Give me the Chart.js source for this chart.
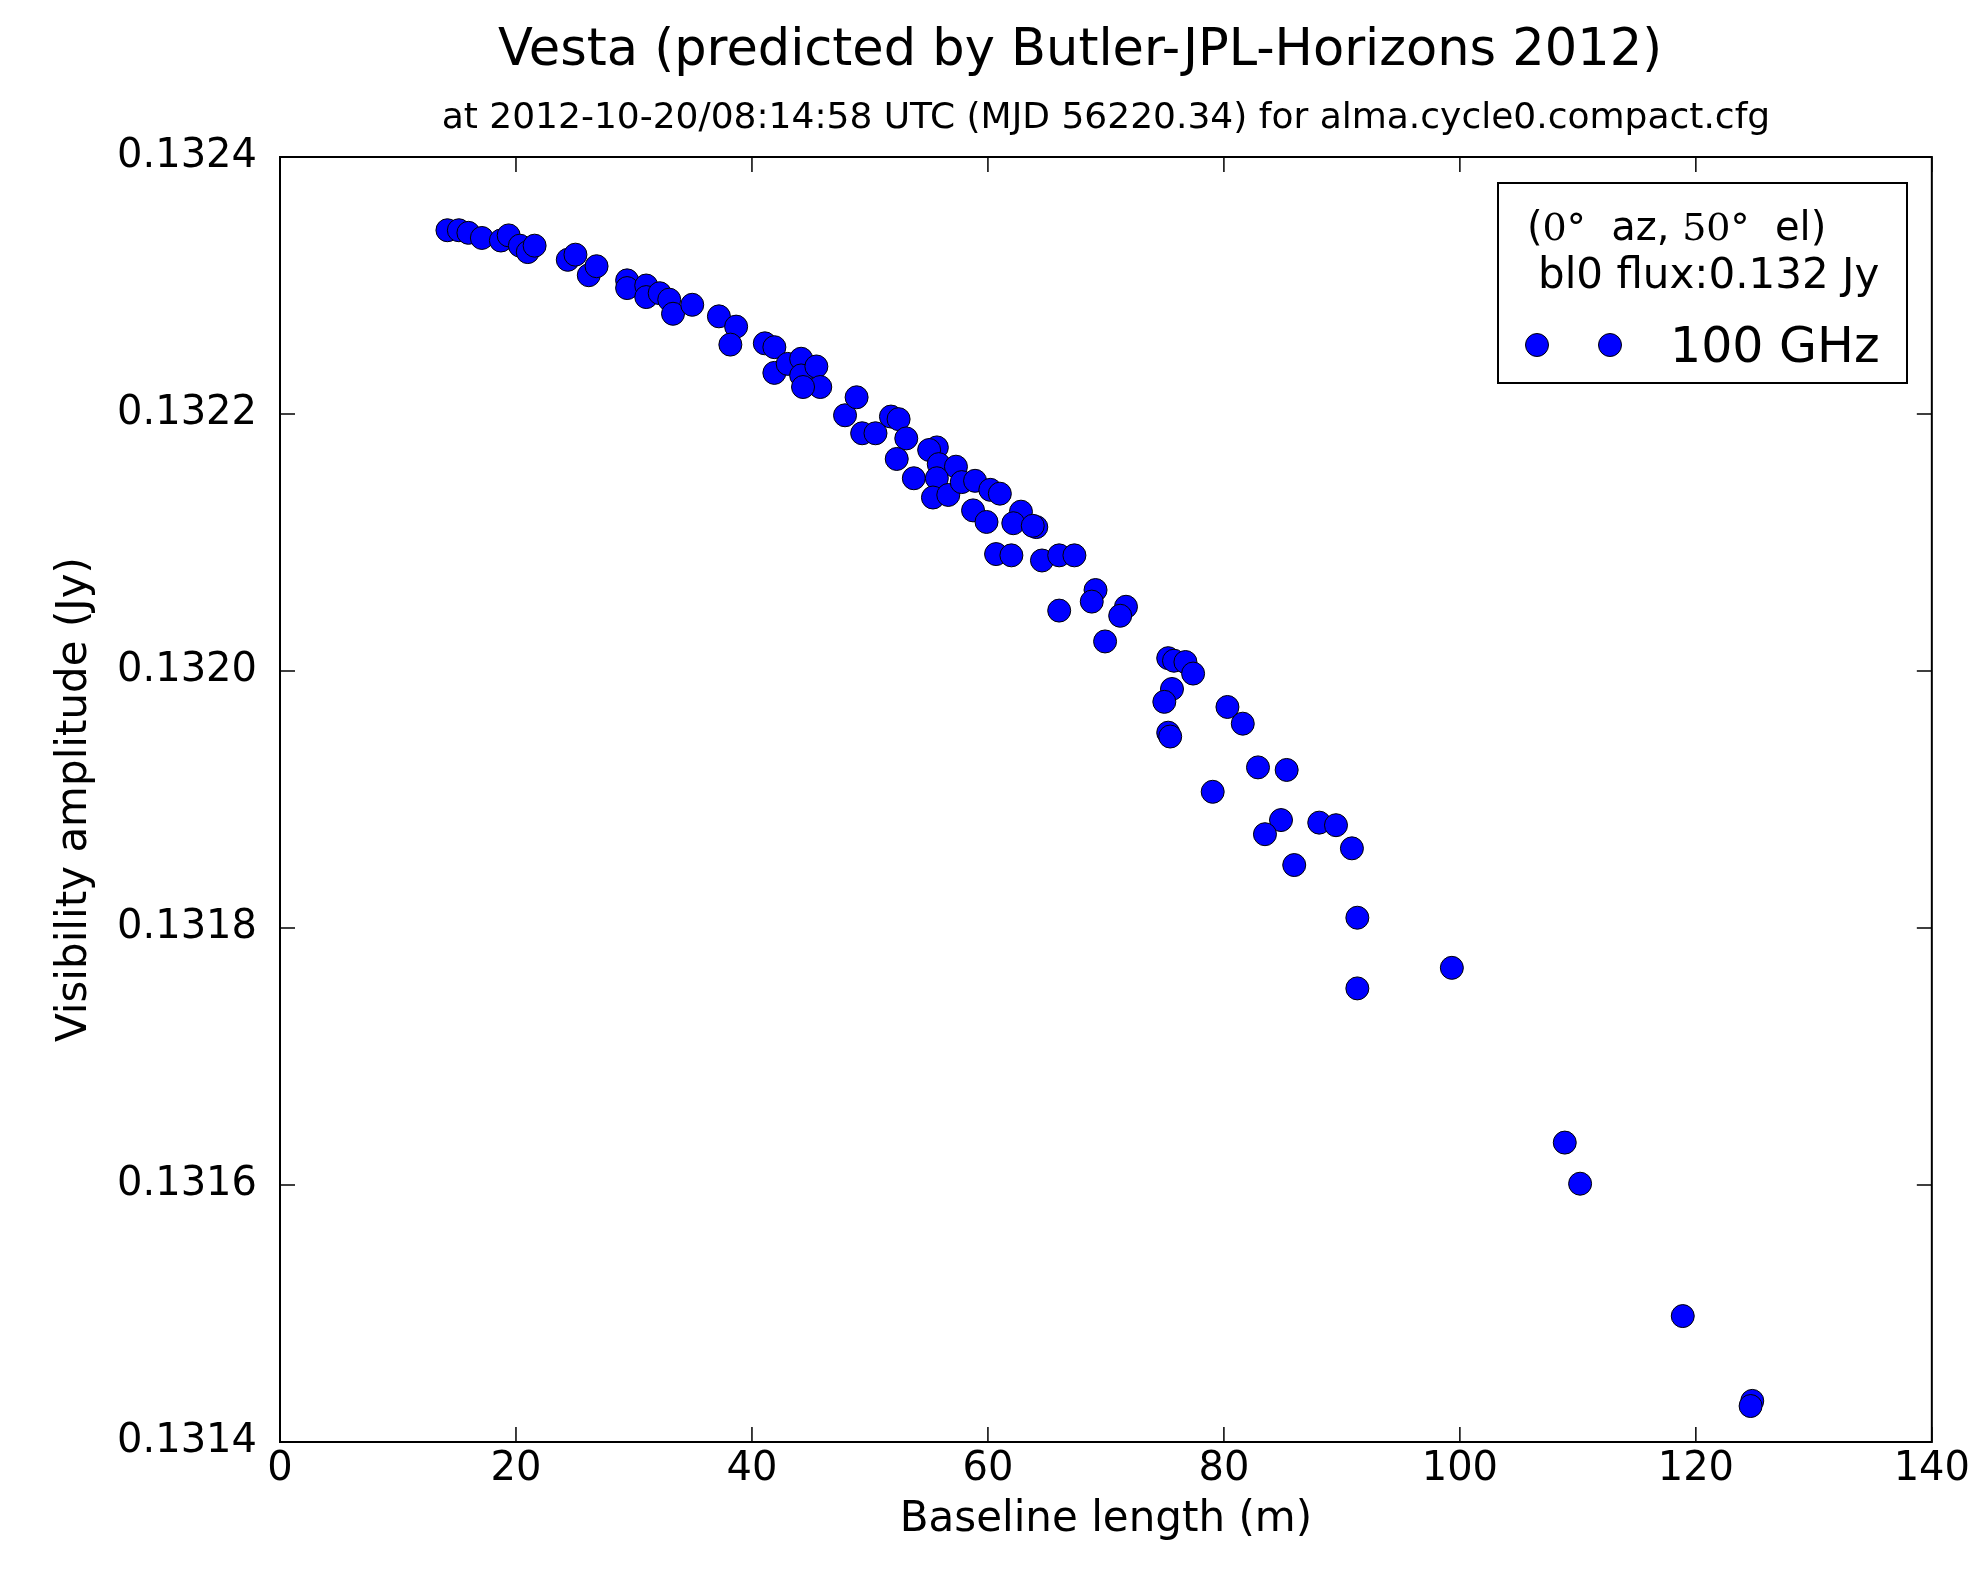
<!DOCTYPE html>
<html>
<head>
<meta charset="utf-8">
<script src="https://cdn.jsdelivr.net/npm/chart.js@4/dist/chart.umd.min.js"></script>
<style>
html,body{margin:0;padding:0;background:#ffffff;}
#wrap{width:1974px;height:1569px;}
canvas{display:block;}
</style>
</head>
<body>
<div id="wrap"><canvas id="c" width="1974" height="1569"></canvas></div>
<script>
// ---- data ----
const baselineLength = [
  14.19, 15.16, 15.97, 17.11, 18.72, 19.38, 20.33, 21.00, 21.58,
  24.39, 25.04, 26.17, 26.83, 29.42, 29.42, 31.04, 31.04, 32.18, 32.99, 33.31, 34.94,
  37.20, 38.66, 38.17, 41.09, 41.90, 41.90, 43.03, 44.17, 44.17, 45.46, 45.79, 44.33,
  47.89, 48.87,
  49.34, 50.47, 51.78, 52.43, 53.08, 52.27, 55.67, 55.02, 55.83, 57.29, 53.72, 55.67,
  55.34, 56.64, 57.78, 58.91, 60.20, 61.01, 58.74, 59.88, 62.80, 62.15, 64.10, 63.80,
  60.69, 61.99, 64.58, 66.04, 67.33, 69.12, 68.80, 66.04, 71.70, 71.21, 69.93,
  75.28, 75.77, 76.74, 77.39, 75.60, 74.95, 75.28, 75.45, 80.30, 81.60, 82.89, 85.32,
  79.05, 84.84, 83.48, 88.08, 89.50, 90.85, 85.96, 91.31, 91.31, 99.32,
  108.89, 110.19, 118.89, 124.78, 124.64
];
const visibilityAmplitude = [
  0.132343, 0.132343, 0.132341, 0.132337, 0.132335, 0.132339, 0.132331, 0.132326, 0.132331,
  0.132320, 0.132324, 0.132308, 0.132315, 0.132304, 0.132298, 0.132300, 0.132291, 0.132294, 0.132289, 0.132278, 0.132285,
  0.132276, 0.132268, 0.132254, 0.132255, 0.132252, 0.132232, 0.132239, 0.132243, 0.132230, 0.132237, 0.132221, 0.132221,
  0.132199, 0.132213,
  0.132185, 0.132185, 0.132198, 0.132196, 0.132181, 0.132165, 0.132174, 0.132172, 0.132161, 0.132159, 0.132150, 0.132150,
  0.132135, 0.132137, 0.132147, 0.132148, 0.132141, 0.132138, 0.132125, 0.132116, 0.132124, 0.132115, 0.132112, 0.132113,
  0.132091, 0.132090, 0.132086, 0.132090, 0.132090, 0.132063, 0.132054, 0.132047, 0.132050, 0.132043, 0.132023,
  0.132010, 0.132008, 0.132007, 0.131998, 0.131986, 0.131976, 0.131952, 0.131949, 0.131972, 0.131959, 0.131925, 0.131923,
  0.131906, 0.131884, 0.131873, 0.131882, 0.131880, 0.131862, 0.131849, 0.131808, 0.131753, 0.131769,
  0.131633, 0.131601, 0.131498, 0.131432, 0.131428
];
const xTickValues = [0, 20, 40, 60, 80, 100, 120, 140];
const yTickValues = [0.1314, 0.1316, 0.1318, 0.1320, 0.1322, 0.1324];
const yTickLabels = ['0.1314', '0.1316', '0.1318', '0.1320', '0.1322', '0.1324'];
const seriesName = '100 GHz';
const chartTitle = 'Vesta (predicted by Butler-JPL-Horizons 2012)';
const chartSubtitle = 'at 2012-10-20/08:14:58 UTC (MJD 56220.34) for alma.cycle0.compact.cfg';
const xAxisTitle = 'Baseline length (m)';
const yAxisTitle = 'Visibility amplitude (Jy)';
const legendLine1 = [['(', 'sans'], ['0°', 'serif'], ['  az, ', 'sans'], ['50°', 'serif'], ['  el)', 'sans']];
const legendLine2 = 'bl0 flux:0.132 Jy';

const points = baselineLength.map((x, i) => ({x: x, y: visibilityAmplitude[i]}));
const SANS = "'DejaVu Sans', 'Liberation Sans', sans-serif";
const SERIF = "'DejaVu Serif', 'Liberation Serif', serif";

Chart.defaults.font.family = SANS;
Chart.defaults.color = '#000000';

const framePlugin = {
  id: 'mplFrame',
  afterDraw(chart) {
    const ctx = chart.ctx;
    const a = chart.chartArea;
    const xs = chart.scales.x, ys = chart.scales.y;
    ctx.save();

    // titles
    ctx.fillStyle = '#000000';
    ctx.textAlign = 'center';
    ctx.textBaseline = 'middle';
    ctx.font = '51px ' + SANS;
    ctx.fillText(chartTitle, 1080, 52);
    ctx.font = '36px ' + SANS;
    ctx.fillText(chartSubtitle, (a.left + a.right) / 2, 119);

    // inward ticks on all four sides
    ctx.strokeStyle = '#000000';
    ctx.lineWidth = 1.5;
    const tl = 15;
    ctx.beginPath();
    xTickValues.forEach(v => {
      const p = xs.getPixelForValue(v);
      ctx.moveTo(p, a.bottom); ctx.lineTo(p, a.bottom - tl);
      ctx.moveTo(p, a.top); ctx.lineTo(p, a.top + tl);
    });
    yTickValues.forEach(v => {
      const p = ys.getPixelForValue(v);
      ctx.moveTo(a.left, p); ctx.lineTo(a.left + tl, p);
      ctx.moveTo(a.right, p); ctx.lineTo(a.right - tl, p);
    });
    ctx.stroke();
    // frame
    ctx.lineWidth = 2;
    ctx.strokeRect(a.left, a.top, a.right - a.left, a.bottom - a.top);

    // legend box
    const bx = 1498, by = 183, bw = 409, bh = 200;
    ctx.fillStyle = '#ffffff';
    ctx.fillRect(bx, by, bw, bh);
    ctx.lineWidth = 2;
    ctx.strokeRect(bx, by, bw, bh);

    ctx.fillStyle = '#000000';
    ctx.textBaseline = 'alphabetic';
    ctx.textAlign = 'left';
    let x = 1527;
    legendLine1.forEach(([t, f]) => {
      ctx.font = (f === 'serif' ? '38px ' + SERIF : '40px ' + SANS);
      ctx.fillText(t, x, 240);
      x += ctx.measureText(t).width;
    });
    ctx.font = '42px ' + SANS;
    ctx.fillText(legendLine2, 1538, 288);

    const ds = chart.data.datasets[0];
    [1537, 1610].forEach(mx => {
      ctx.beginPath();
      ctx.arc(mx, 345, ds.pointRadius, 0, Math.PI * 2);
      ctx.fillStyle = ds.backgroundColor;
      ctx.fill();
      ctx.lineWidth = ds.borderWidth;
      ctx.strokeStyle = ds.borderColor;
      ctx.stroke();
    });
    ctx.fillStyle = '#000000';
    ctx.font = '49px ' + SANS;
    ctx.fillText(ds.label, 1670, 362);
    ctx.restore();
  }
};

new Chart(document.getElementById('c'), {
  type: 'scatter',
  data: {
    datasets: [{
      label: seriesName,
      data: points,
      backgroundColor: '#0000ff',
      borderColor: '#000000',
      borderWidth: 1,
      pointRadius: 11.5,
      pointHoverRadius: 11.5
    }]
  },
  options: {
    responsive: false,
    animation: false,
    devicePixelRatio: 1,
    layout: {padding: {left: 0, right: 42, top: 157, bottom: 0}},
    plugins: {
      legend: {display: false},
      tooltip: {enabled: false},
      title: {display: false},
      subtitle: {display: false}
    },
    scales: {
      x: {
        type: 'linear',
        position: 'bottom',
        min: 0, max: 140,
        afterBuildTicks: s => { s.ticks = xTickValues.map(v => ({value: v})); },
        afterFit: s => { s.height = 127; },
        grid: {display: false, drawTicks: false},
        border: {display: false},
        ticks: {
          padding: 4,
          maxRotation: 0,
          autoSkip: false,
          color: '#000000',
          font: {size: 40, family: SANS},
          callback: v => String(v)
        },
        title: {
          display: true,
          text: xAxisTitle,
          color: '#000000',
          font: {size: 42, family: SANS},
          padding: {top: 0, bottom: 23.3}
        }
      },
      y: {
        type: 'linear',
        position: 'left',
        min: 0.1314, max: 0.1324,
        afterBuildTicks: s => { s.ticks = yTickValues.map(v => ({value: v})); },
        afterFit: s => { s.width = 280; },
        grid: {display: false, drawTicks: false},
        border: {display: false},
        ticks: {
          padding: 23,
          autoSkip: false,
          color: '#000000',
          font: {size: 40, family: SANS},
          callback: (v) => yTickLabels[yTickValues.findIndex(t => Math.abs(t - v) < 1e-9)]
        },
        title: {
          display: true,
          text: yAxisTitle,
          color: '#000000',
          font: {size: 42, family: SANS},
          padding: {top: 50.3, bottom: 0}
        }
      }
    }
  },
  plugins: [framePlugin]
});
</script>
</body>
</html>
